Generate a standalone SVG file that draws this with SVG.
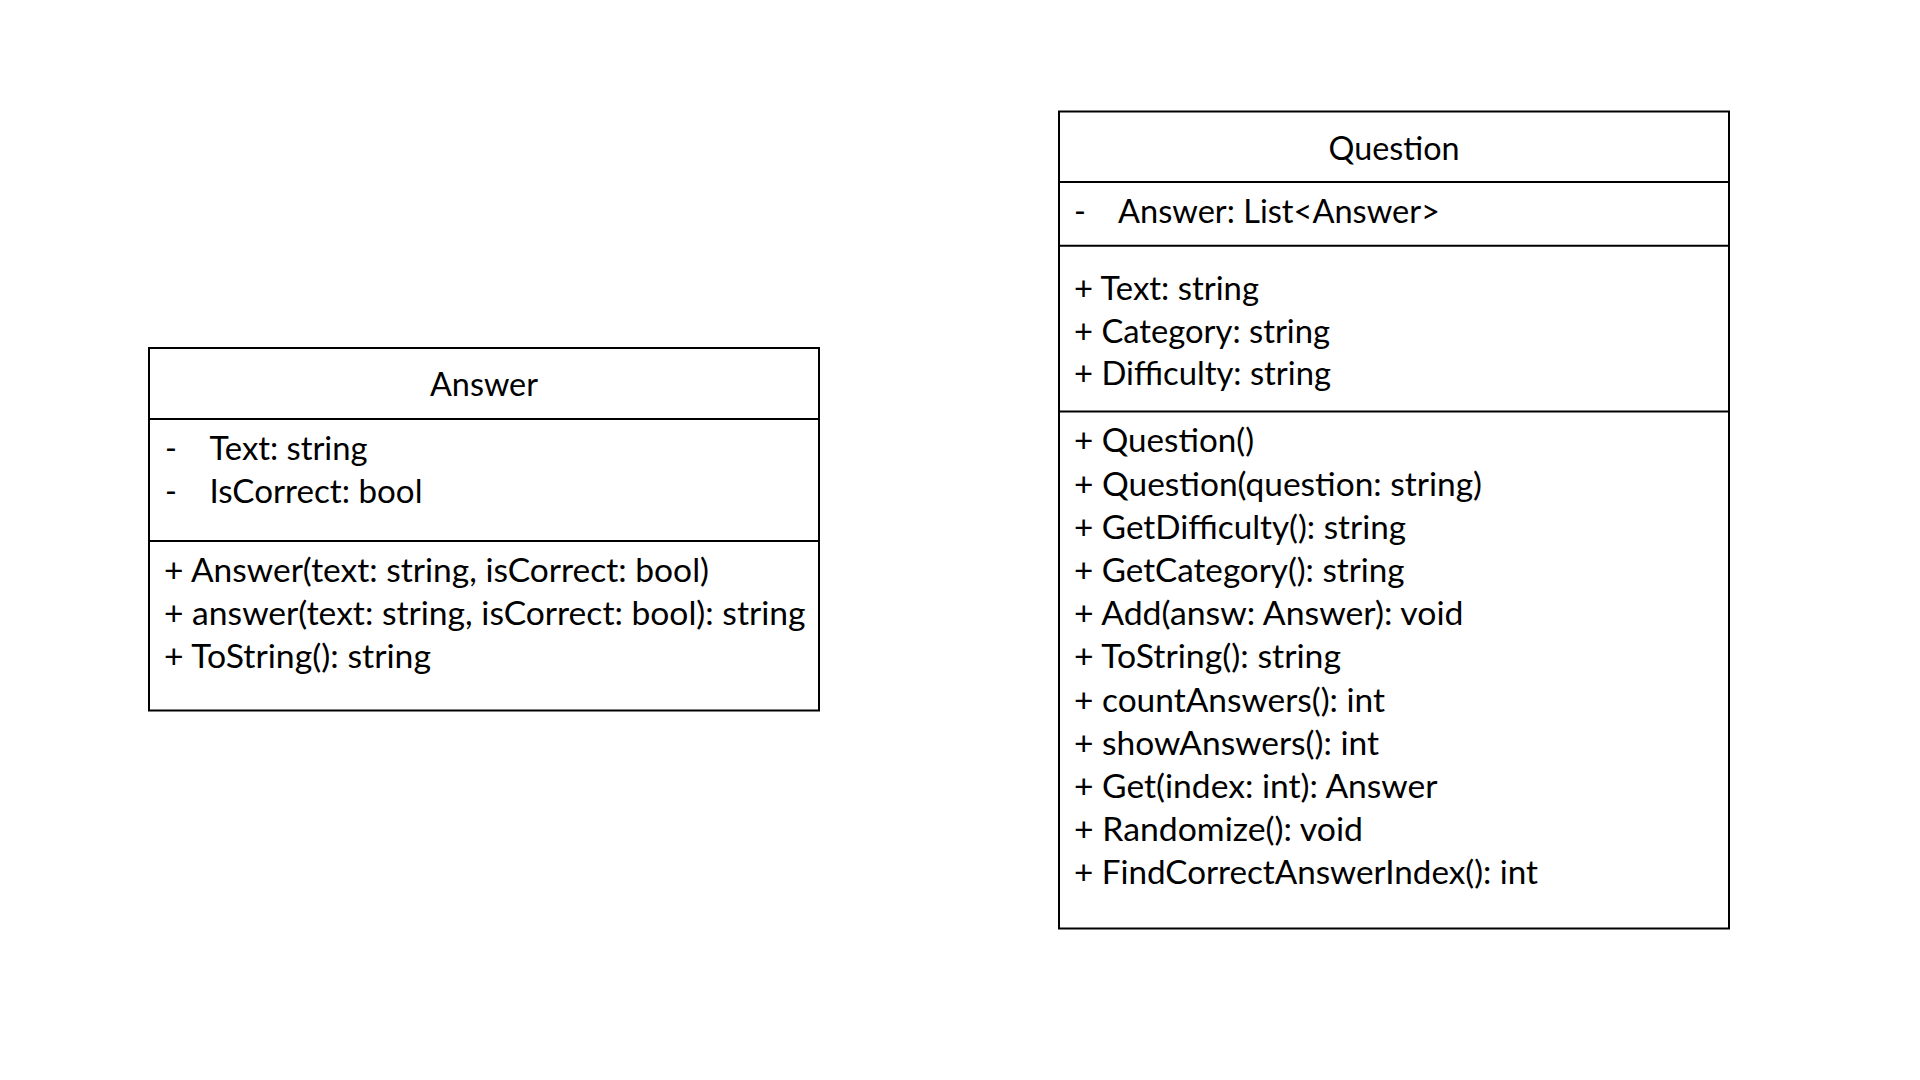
<svg xmlns="http://www.w3.org/2000/svg" width="1920" height="1080" viewBox="0 0 1920 1080">
<style>
.box{fill:#fff;stroke:#000;stroke-width:2}
.ln{stroke:#000;stroke-width:2}
text{font-family:Lato,"Open Sans","Liberation Sans",sans-serif;font-size:32px;fill:#000}
.t{text-anchor:middle}
</style>
<rect width="1920" height="1080" fill="#fff"/>
<g id="answer">
<rect class="box" x="149" y="348" width="670" height="362.5"/>
<line class="ln" x1="149" y1="419" x2="819" y2="419"/>
<line class="ln" x1="149" y1="541" x2="819" y2="541"/>
<text class="t" x="484" y="396" textLength="108" lengthAdjust="spacingAndGlyphs">Answer</text>
<text x="165" y="460">-</text>
<text x="209.5" y="460" textLength="158" lengthAdjust="spacingAndGlyphs">Text: string</text>
<text x="165" y="503">-</text>
<text x="209.5" y="503" textLength="213" lengthAdjust="spacingAndGlyphs">IsCorrect: bool</text>
<text x="164" y="582" textLength="545" lengthAdjust="spacingAndGlyphs">+ Answer(text: string, isCorrect: bool)</text>
<text x="164" y="625" textLength="641.5" lengthAdjust="spacingAndGlyphs">+ answer(text: string, isCorrect: bool): string</text>
<text x="164" y="668" textLength="267" lengthAdjust="spacingAndGlyphs">+ ToString(): string</text>
</g>
<g id="question">
<rect class="box" x="1059" y="111.5" width="670" height="817"/>
<line class="ln" x1="1059" y1="182" x2="1729" y2="182"/>
<line class="ln" x1="1059" y1="245.7" x2="1729" y2="245.7"/>
<line class="ln" x1="1059" y1="411.5" x2="1729" y2="411.5"/>
<text class="t" x="1394" y="159.5" textLength="131" lengthAdjust="spacingAndGlyphs">Question</text>
<text x="1074" y="223.3">-</text>
<text x="1118" y="223.3" textLength="322" lengthAdjust="spacingAndGlyphs">Answer: List&lt;Answer&gt;</text>
<text x="1074" y="300" textLength="185" lengthAdjust="spacingAndGlyphs">+ Text: string</text>
<text x="1074" y="342.5" textLength="256" lengthAdjust="spacingAndGlyphs">+ Category: string</text>
<text x="1074" y="385" textLength="257" lengthAdjust="spacingAndGlyphs">+ Difficulty: string</text>
<text x="1074" y="452.3" textLength="180" lengthAdjust="spacingAndGlyphs">+ Question()</text>
<text x="1074" y="495.5" textLength="408" lengthAdjust="spacingAndGlyphs">+ Question(question: string)</text>
<text x="1074" y="538.7" textLength="332" lengthAdjust="spacingAndGlyphs">+ GetDifficulty(): string</text>
<text x="1074" y="581.9" textLength="330.5" lengthAdjust="spacingAndGlyphs">+ GetCategory(): string</text>
<text x="1074" y="625.1" textLength="389.5" lengthAdjust="spacingAndGlyphs">+ Add(answ: Answer): void</text>
<text x="1074" y="668.3" textLength="267" lengthAdjust="spacingAndGlyphs">+ ToString(): string</text>
<text x="1074" y="711.5" textLength="311" lengthAdjust="spacingAndGlyphs">+ countAnswers(): int</text>
<text x="1074" y="754.7" textLength="305" lengthAdjust="spacingAndGlyphs">+ showAnswers(): int</text>
<text x="1074" y="797.9" textLength="363.5" lengthAdjust="spacingAndGlyphs">+ Get(index: int): Answer</text>
<text x="1074" y="841.1" textLength="289" lengthAdjust="spacingAndGlyphs">+ Randomize(): void</text>
<text x="1074" y="884.3" textLength="464" lengthAdjust="spacingAndGlyphs">+ FindCorrectAnswerIndex(): int</text>
</g>
<g id="connectors"/>
</svg>
